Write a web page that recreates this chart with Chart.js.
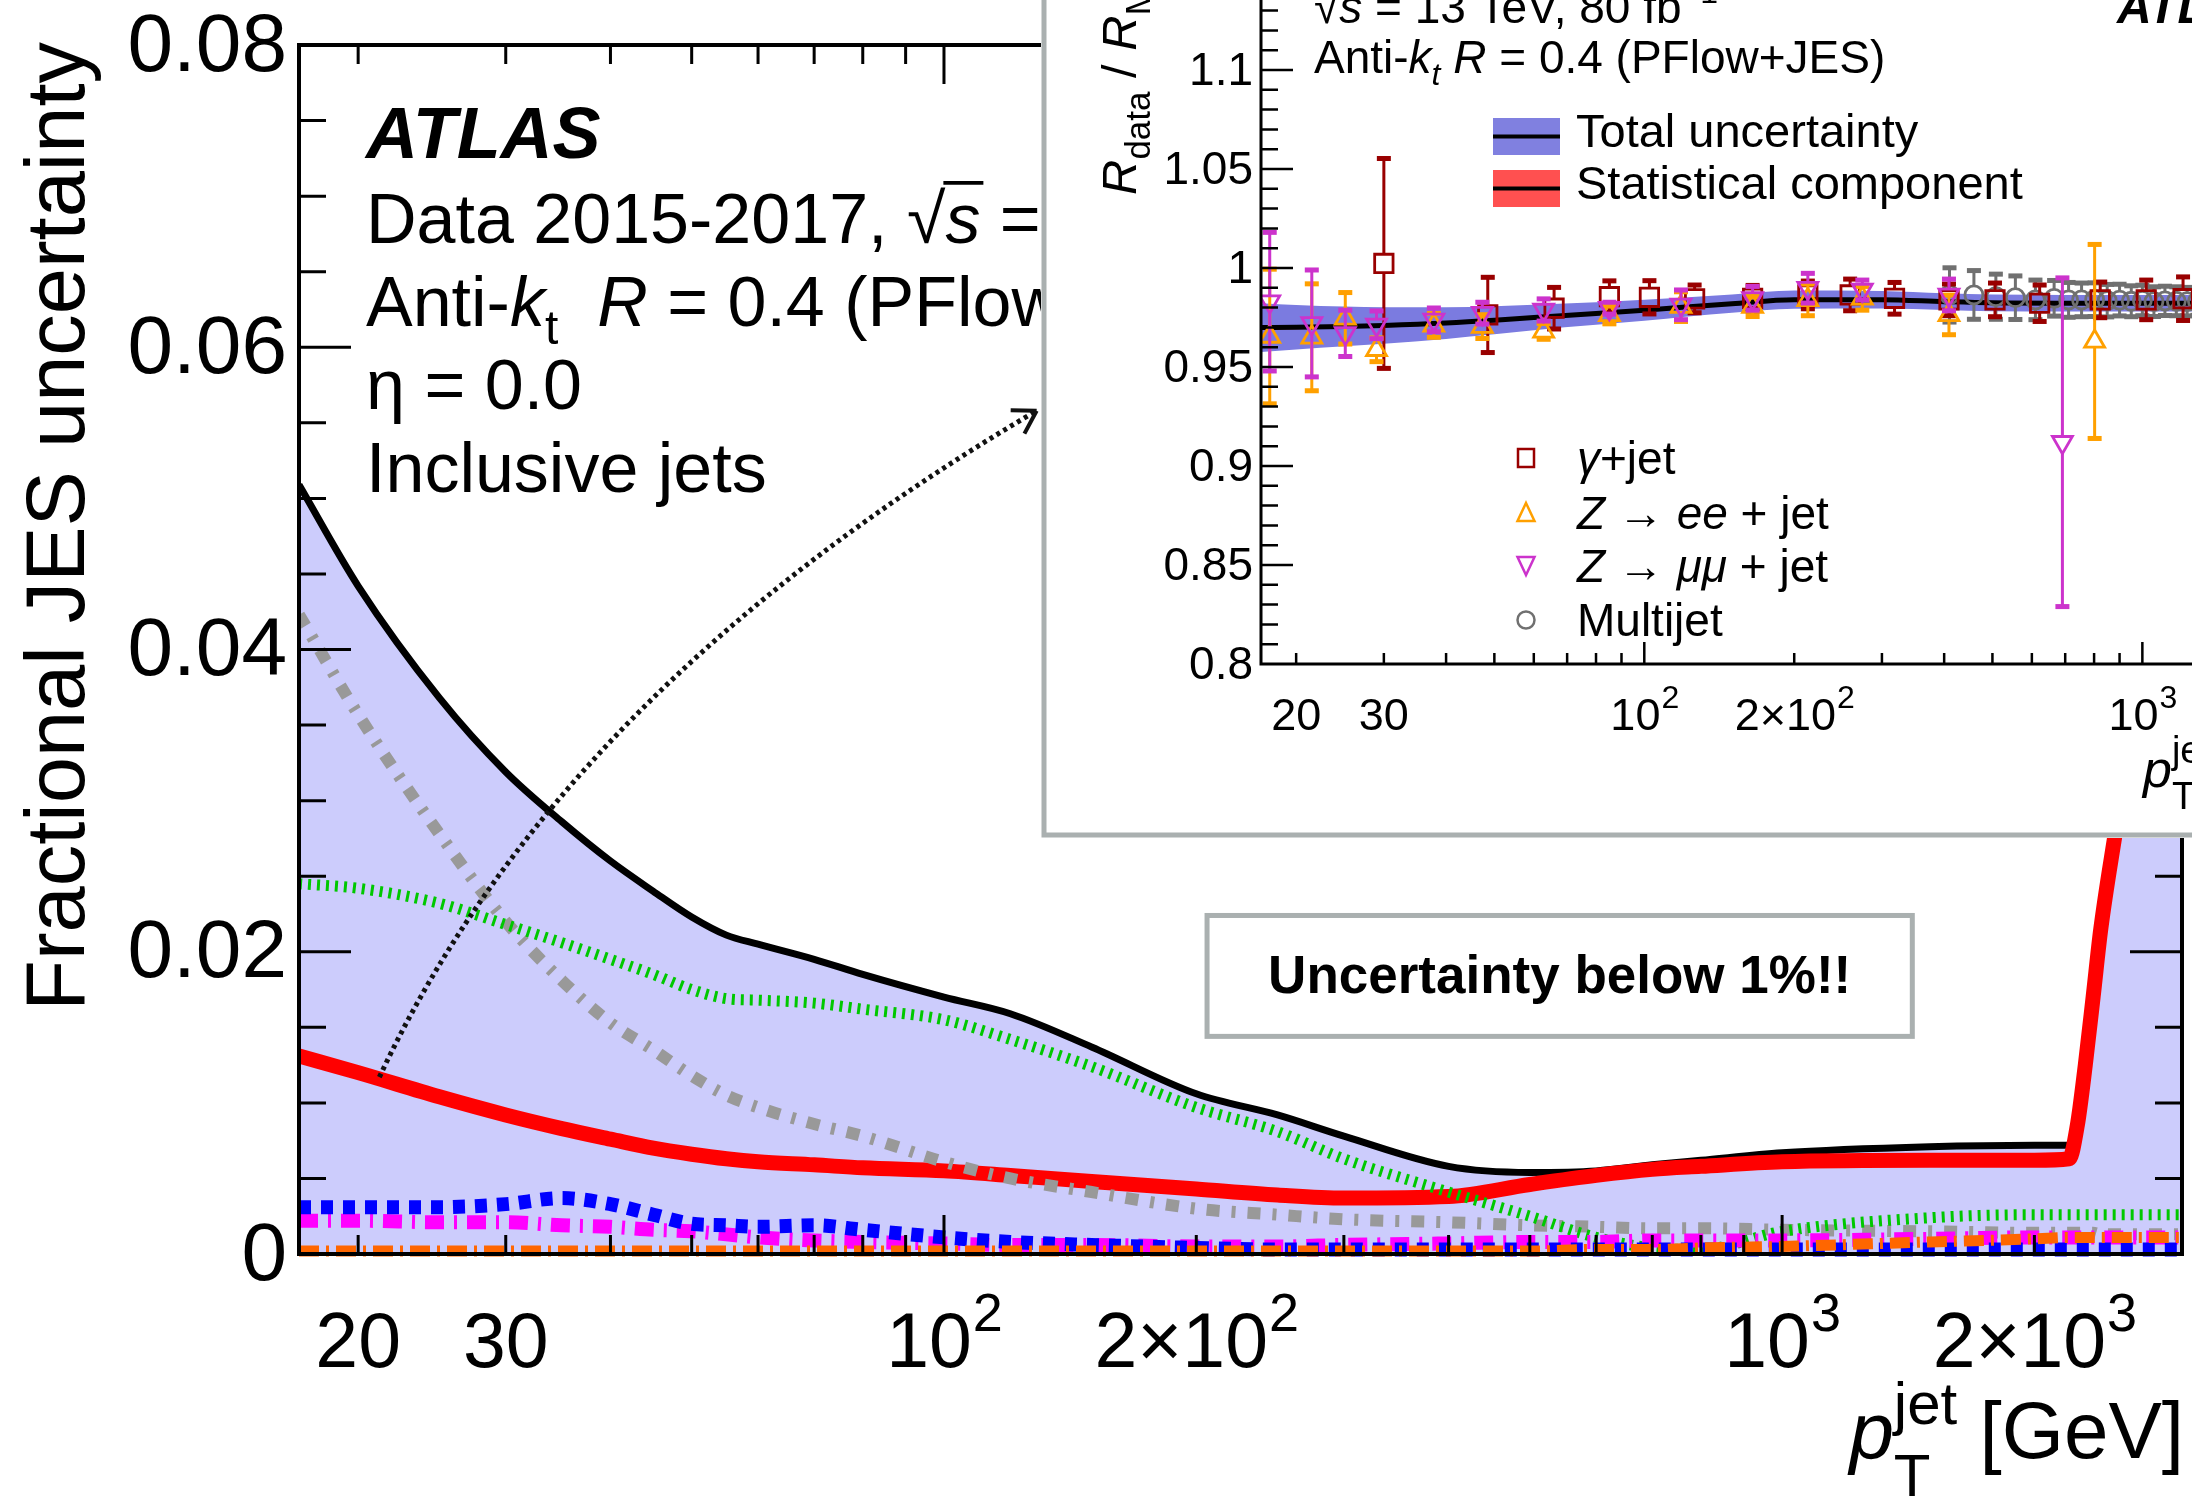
<!DOCTYPE html>
<html>
<head>
<meta charset="utf-8">
<script src="https://cdn.jsdelivr.net/npm/chart.js@4.4.1/dist/chart.umd.min.js"></script>
<style>
  html, body { margin: 0; padding: 0; background: #fff; }
  #main { position: absolute; left: 0; top: 0; }
  #insetBox { position: absolute; left: 1041px; top: 0; width: 1151px; height: 838px; overflow: hidden; background: #fff; }
  #inset { position: absolute; left: 0; top: -200px; }
</style>
</head>
<body>
<canvas id="main" width="2192" height="1503"></canvas>
<div id="insetBox"><canvas id="inset" width="1400" height="1040"></canvas></div>
<script>
// --- main plot: fractional JES uncertainty vs jet pT ---
const ptBins = [17, 20, 25, 30, 35, 40, 45, 50, 55, 60, 70, 80, 100, 120, 150, 200, 250, 300, 400, 500,
  600, 700, 800, 1000, 1500, 2000, 2200, 2250, 2300, 2350, 2400, 2500, 2600, 3000];
const totalUnc = [0.0509, 0.0442, 0.0368, 0.0319, 0.0286, 0.0260, 0.0240, 0.0223, 0.0211, 0.0205,
  0.0195, 0.0185, 0.0170, 0.0159, 0.0137, 0.0106, 0.0092, 0.0078, 0.0058, 0.0054,
  0.0055, 0.0059, 0.0062, 0.0067, 0.0071, 0.0072, 0.0072, 0.0091, 0.0131, 0.0176,
  0.0221, 0.0286, 0.0346, 0.0586];
const statUnc = [0.0131, 0.0120, 0.0104, 0.0092, 0.0083, 0.0076, 0.0070, 0.0066, 0.0063, 0.0061,
  0.0059, 0.0057, 0.0055, 0.0052, 0.0048, 0.0043, 0.0039, 0.0037, 0.0038, 0.0046,
  0.0052, 0.0056, 0.0058, 0.0061, 0.0062, 0.0062, 0.0063, 0.0085, 0.0125, 0.0170,
  0.0215, 0.0280, 0.0340, 0.0580];
const greenUnc = [0.0245, 0.0242, 0.0232, 0.0218, 0.0206, 0.0195, 0.0185, 0.0175, 0.0169, 0.0168,
  0.0166, 0.0162, 0.0155, 0.0142, 0.0124, 0.0097, 0.0081, 0.0063, 0.0041, 0.0025,
  0.0011, 0.0004, 0.0003, 0.0015, 0.0024, 0.0026, 0.0026, 0.0026, 0.0026, 0.0026,
  0.0026, 0.0026, 0.0026, 0.0026];
const grayUnc = [0.0423, 0.0357, 0.0278, 0.0220, 0.0181, 0.0153, 0.0135, 0.0118, 0.0105, 0.0097,
  0.0086, 0.0078, 0.0061, 0.0050, 0.0041, 0.0030, 0.0026, 0.0023, 0.0021, 0.0019,
  0.0018, 0.0017, 0.0017, 0.0016, 0.0015, 0.0014, 0.0014, 0.0014, 0.0014, 0.0014,
  0.0013, 0.0013, 0.0013, 0.0013];
const blueUnc = [0.0031, 0.0031, 0.0031, 0.0033, 0.0037, 0.0033, 0.0026, 0.0020, 0.0019, 0.0018,
  0.0019, 0.0016, 0.0011, 0.0008, 0.0006, 0.0004, 0.0003, 0.0003, 0.0003, 0.0003,
  0.0003, 0.0003, 0.0003, 0.0003, 0.0003, 0.0003, 0.0003, 0.0003, 0.0003, 0.0003,
  0.0003, 0.0003, 0.0003, 0.0003];
const magentaUnc = [0.0022, 0.0022, 0.0021, 0.0021, 0.0019, 0.0018, 0.0016, 0.0015, 0.0013, 0.0011,
  0.0009, 0.0008, 0.0007, 0.0006, 0.0006, 0.0005, 0.0005, 0.0006, 0.0007, 0.0008,
  0.0008, 0.0009, 0.0009, 0.0009, 0.0010, 0.0011, 0.0011, 0.0011, 0.0011, 0.0011,
  0.0011, 0.0011, 0.0011, 0.0011];
const orangeUnc = [0.0002, 0.0002, 0.0002, 0.0002, 0.0002, 0.0002, 0.0002, 0.0002, 0.0002, 0.0002,
  0.0002, 0.0002, 0.0002, 0.0002, 0.0002, 0.0002, 0.0002, 0.0002, 0.0002, 0.0002,
  0.0003, 0.0003, 0.0004, 0.0005, 0.0008, 0.0010, 0.0011, 0.0011, 0.0011, 0.0011,
  0.0011, 0.0011, 0.0011, 0.0011];

const xLabelVals = [20, 30, 100, 200, 1000, 2000];
const xLabelBase = ['20', '30', '10', '2\u00d710', '10', '2\u00d710'];
const xLabelExp = ['', '', '2', '2', '3', '3'];
const yLabelVals = [0, 0.02, 0.04, 0.06, 0.08];
const yLabelText = ['0', '0.02', '0.04', '0.06', '0.08'];

// annotation anchors (data coordinates)
const arrowFrom = [21.2, 0.0117], arrowCtrl = [34.8, 0.0373], arrowTo = [129, 0.0558];
const noteBox = { x0: 206, x1: 1430, y0: 0.0144, y1: 0.0224 };

// --- inset: Rdata / RMC ---
const calibPt = [17, 20, 25, 30, 40, 50, 60, 80, 100, 150, 200, 300, 400, 500, 700, 1000, 1500, 2000, 3000];
const calibRatio = [0.9699, 0.9701, 0.9705, 0.9710, 0.9722, 0.9736, 0.9750, 0.9770, 0.9787, 0.9820,
  0.9840, 0.9840, 0.9830, 0.9824, 0.9822, 0.9822, 0.9822, 0.9822, 0.9822];
const calibTotErr = [0.0123, 0.0112, 0.0100, 0.0092, 0.0080, 0.0071, 0.0064, 0.0057, 0.0053, 0.0046,
  0.0046, 0.0044, 0.0042, 0.0042, 0.0042, 0.0042, 0.0043, 0.0045, 0.0050];
const calibStatErr = [0.0011, 0.0010, 0.0009, 0.0009, 0.0008, 0.0008, 0.0008, 0.0008, 0.0008, 0.0008,
  0.0008, 0.0008, 0.0008, 0.0009, 0.0009, 0.0010, 0.0010, 0.0011, 0.0011];

const gjetPt = [30.0, 48.5, 65.9, 85.1, 102.4, 126.2, 165, 213, 259, 318, 409, 506, 622, 823, 1018, 1207];
const gjetR = [1.0023, 0.9763, 0.9797, 0.9855, 0.9852, 0.9844, 0.9847, 0.9864, 0.9864, 0.9847, 0.9839,
  0.9839, 0.9822, 0.9839, 0.9839, 0.9845];
const gjetErr = [0.053, 0.019, 0.0105, 0.008, 0.0084, 0.007, 0.0065, 0.007, 0.008, 0.008, 0.008,
  0.0085, 0.0092, 0.009, 0.010, 0.011];

const zeePt = [17.7, 21.5, 25.1, 29.0, 37.8, 47.3, 62.8, 85.1, 118.5, 165, 213, 274, 409, 802];
const zeeR = [0.9654, 0.9650, 0.9746, 0.9587, 0.9710, 0.9704, 0.9680, 0.9763, 0.9805, 0.9805, 0.9839,
  0.9847, 0.9763, 0.9629];
const zeeErr = [0.034, 0.027, 0.013, 0.006, 0.006, 0.006, 0.0040, 0.0045, 0.0075, 0.005, 0.008, 0.006, 0.010, 0.049];

const zmmPt = [17.7, 21.5, 25.1, 29.0, 37.8, 47.3, 62.8, 85.1, 118.5, 165, 213, 274, 409, 691];
const zmmR = [0.9830, 0.9720, 0.9670, 0.9713, 0.9738, 0.9772, 0.9788, 0.9797, 0.9814, 0.9847, 0.9898,
  0.9889, 0.9864, 0.9120];
const zmmErr = [0.035, 0.027, 0.0117, 0.007, 0.006, 0.0055, 0.0056, 0.003, 0.0075, 0.006, 0.0075, 0.005, 0.008, 0.083];

const mjPt = [410, 459, 508, 556, 610, 665, 711, 755, 802, 850, 900, 950, 1000, 1055, 1110, 1170, 1230, 1290];
const mjR = [0.9864, 0.9864, 0.9855, 0.9850, 0.9839, 0.9847, 0.9839, 0.9839, 0.9840, 0.9835, 0.9838,
  0.9832, 0.9836, 0.9830, 0.9834, 0.9832, 0.9830, 0.9831];
const mjErr = [0.0137, 0.0123, 0.0114, 0.0110, 0.0100, 0.0090, 0.0088, 0.0085, 0.0085, 0.0082, 0.0080,
  0.0078, 0.0077, 0.0075, 0.0074, 0.0073, 0.0072, 0.0070];

const insetXLabelVals = [20, 30, 100, 200, 1000, 2000];
const insetYLabelVals = [0.8, 0.85, 0.9, 0.95, 1, 1.05, 1.1, 1.15];
const insetYLabelText = ['0.8', '0.85', '0.9', '0.95', '1', '1.05', '1.1', '1.15'];

const FONT = '"Liberation Sans", Arial, Helvetica, sans-serif';
const C_GJET = '#990000', C_ZEE = '#ffa000', C_ZMM = '#cc33cc', C_MJ = '#707070';

function fnt(size, style) { return (style || '') + ' ' + size + 'px ' + FONT; }

// draws a run of text pieces (italic, sub/superscripts); hold = next piece starts at same x
function drawRich(ctx, x, y, parts, align) {
  const ws = parts.map(p => { ctx.font = fnt(p.size, p.style); return ctx.measureText(p.t).width; });
  let total = 0, held = 0;
  parts.forEach((p, i) => {
    if (p.hold) held = Math.max(held, ws[i]);
    else { total += Math.max(ws[i], held); held = 0; }
  });
  total += held;
  let cx = align === 'center' ? x - total / 2 : align === 'right' ? x - total : x;
  held = 0;
  ctx.textAlign = 'left';
  ctx.textBaseline = 'alphabetic';
  parts.forEach((p, i) => {
    ctx.font = fnt(p.size, p.style);
    ctx.fillText(p.t, cx, y + (p.dy || 0));
    if (p.over) {
      ctx.save();
      ctx.lineWidth = p.size * 0.055;
      ctx.beginPath();
      ctx.moveTo(cx - 2, y - p.size * 0.86);
      ctx.lineTo(cx + ws[i] + 3, y - p.size * 0.86);
      ctx.stroke();
      ctx.restore();
    }
    if (p.hold) held = Math.max(held, ws[i]);
    else { cx += Math.max(ws[i], held); held = 0; }
  });
}

function minorLogTicks(min, max) {
  const out = [];
  for (let d = 1; d <= 1000; d *= 10) {
    for (let m = 1; m <= 9; m++) {
      const v = m * d;
      if (v > min && v < max) out.push({ v: v, major: m === 1 });
    }
  }
  return out;
}

function pts(xs, ys) { return xs.map((x, i) => ({ x: x, y: ys[i] })); }

// ---------------- main chart ----------------
const mainDecor = {
  id: 'mainDecor',
  afterDatasetsDraw(chart) {
    const ctx = chart.ctx, a = chart.chartArea;
    const xs = chart.scales.x, ys = chart.scales.y;
    ctx.save();
    ctx.strokeStyle = '#000';
    ctx.fillStyle = '#000';

    // ticks
    ctx.lineWidth = 3;
    ctx.beginPath();
    minorLogTicks(17, 3000).forEach(t => {
      const px = xs.getPixelForValue(t.v), len = t.major ? 39 : 19;
      ctx.moveTo(px, a.bottom); ctx.lineTo(px, a.bottom - len);
      ctx.moveTo(px, a.top); ctx.lineTo(px, a.top + len);
    });
    for (let k = 1; k < 16; k++) {
      const v = k * 0.005, py = ys.getPixelForValue(v), len = k % 4 === 0 ? 52 : 27;
      ctx.moveTo(a.left, py); ctx.lineTo(a.left + len, py);
      ctx.moveTo(a.right, py); ctx.lineTo(a.right - len, py);
    }
    ctx.stroke();

    // frame
    ctx.lineWidth = 4;
    ctx.strokeRect(a.left, a.top, a.right - a.left, a.bottom - a.top);

    // y tick labels
    ctx.font = fnt(82);
    ctx.textAlign = 'right';
    ctx.textBaseline = 'middle';
    yLabelVals.forEach((v, i) => ctx.fillText(yLabelText[i], a.left - 12, ys.getPixelForValue(v) + 3));

    // x tick labels with exponents
    xLabelVals.forEach((v, i) => {
      const px = xs.getPixelForValue(v);
      ctx.font = fnt(77); const wb = ctx.measureText(xLabelBase[i]).width;
      ctx.font = fnt(54); const we = xLabelExp[i] ? ctx.measureText(xLabelExp[i]).width : 0;
      const sx = px - (wb + we) / 2;
      ctx.textAlign = 'left'; ctx.textBaseline = 'alphabetic';
      ctx.font = fnt(77); ctx.fillText(xLabelBase[i], sx, 1367);
      if (xLabelExp[i]) { ctx.font = fnt(54); ctx.fillText(xLabelExp[i], sx + wb + 1, 1331); }
    });

    // axis titles
    ctx.save();
    ctx.translate(84, 42);
    ctx.rotate(-Math.PI / 2);
    ctx.font = fnt(83);
    ctx.textAlign = 'right';
    ctx.textBaseline = 'alphabetic';
    ctx.fillText('Fractional JES uncertainty', 0, 0);
    ctx.restore();
    drawRich(ctx, a.right + 2, 1458, [
      { t: 'p', size: 80, style: 'italic' },
      { t: 'jet', size: 60, dy: -34, hold: true },
      { t: 'T', size: 60, dy: 38 },
      { t: ' [GeV]', size: 80 }
    ], 'right');

    // labels
    drawRich(ctx, 366, 158, [{ t: 'ATLAS', size: 72, style: 'italic bold' }]);
    drawRich(ctx, 366, 243, [
      { t: 'Data 2015-2017, ', size: 70 },
      { t: '\u221a', size: 70 },
      { t: 's', size: 70, style: 'italic', over: true },
      { t: ' = 13 TeV, 80 fb', size: 70 },
      { t: '\u22121', size: 48, dy: -30 }
    ]);
    drawRich(ctx, 366, 326, [
      { t: 'Anti-', size: 70 },
      { t: 'k', size: 70, style: 'italic' },
      { t: 't', size: 48, dy: 18 },
      { t: '  ', size: 70 },
      { t: 'R', size: 70, style: 'italic' },
      { t: ' = 0.4 (PFlow+JES)', size: 70 }
    ]);
    drawRich(ctx, 366, 409, [{ t: '\u03b7 = 0.0', size: 70 }]);
    drawRich(ctx, 366, 492, [{ t: 'Inclusive jets', size: 70 }]);

    // note box
    const bx0 = xs.getPixelForValue(noteBox.x0), bx1 = xs.getPixelForValue(noteBox.x1);
    const by0 = ys.getPixelForValue(noteBox.y1), by1 = ys.getPixelForValue(noteBox.y0);
    ctx.fillStyle = '#fff';
    ctx.fillRect(bx0, by0, bx1 - bx0, by1 - by0);
    ctx.strokeStyle = '#aab0b0';
    ctx.lineWidth = 5;
    ctx.strokeRect(bx0, by0, bx1 - bx0, by1 - by0);
    ctx.fillStyle = '#000';
    ctx.font = fnt(53, 'bold');
    ctx.textAlign = 'center';
    ctx.textBaseline = 'middle';
    ctx.fillText('Uncertainty below 1%!!', (bx0 + bx1) / 2, (by0 + by1) / 2 + 2);

    // dotted arrow
    const p0 = [xs.getPixelForValue(arrowFrom[0]), ys.getPixelForValue(arrowFrom[1])];
    const pc = [xs.getPixelForValue(arrowCtrl[0]), ys.getPixelForValue(arrowCtrl[1])];
    const p2 = [xs.getPixelForValue(arrowTo[0]), ys.getPixelForValue(arrowTo[1])];
    ctx.strokeStyle = '#111';
    ctx.lineWidth = 5;
    ctx.setLineDash([4, 4]);
    ctx.beginPath();
    ctx.moveTo(p0[0], p0[1]);
    ctx.quadraticCurveTo(pc[0], pc[1], p2[0], p2[1]);
    ctx.stroke();
    const ang = Math.atan2(p2[1] - pc[1], p2[0] - pc[0]);
    ctx.setLineDash([]);
    ctx.lineWidth = 4;
    ctx.beginPath();
    [0.55, -0.55].forEach(d => {
      ctx.moveTo(p2[0], p2[1]);
      ctx.lineTo(p2[0] - 26 * Math.cos(ang + d), p2[1] - 26 * Math.sin(ang + d));
    });
    ctx.stroke();
    ctx.restore();
  }
};

function curve(vals, color, width, dash, order, extra) {
  return Object.assign({
    data: pts(ptBins, vals),
    borderColor: color,
    borderWidth: width,
    borderDash: dash,
    pointRadius: 0,
    fill: false,
    order: order,
    clip: { left: 0, top: 0, right: 0, bottom: 12 }
  }, extra || {});
}

new Chart(document.getElementById('main'), {
  type: 'line',
  data: {
    datasets: [
      curve(totalUnc, '#000', 7, [], 7, { fill: 'origin', backgroundColor: 'rgb(204,204,252)' }),
      curve(statUnc, '#ff0000', 15, [], 6),
      curve(grayUnc, '#999999', 12, [13, 12, 4, 12], 5),
      curve(greenUnc, '#00c800', 11, [3, 6], 4),
      curve(magentaUnc, '#ff00ff', 14, [19, 10, 3, 10], 3),
      curve(blueUnc, '#0000ff', 14, [12, 10], 2),
      curve(orangeUnc, '#ff6600', 11, [20, 7, 3, 7], 1)
    ]
  },
  options: {
    responsive: false,
    animation: false,
    devicePixelRatio: 1,
    layout: { padding: { left: 299, top: 45, right: 10, bottom: 249 } },
    plugins: { legend: { display: false }, tooltip: { enabled: false } },
    elements: { line: { cubicInterpolationMode: 'monotone', borderJoinStyle: 'round' } },
    scales: {
      x: { type: 'logarithmic', min: 17, max: 3000, display: false },
      y: { type: 'linear', min: 0, max: 0.08, display: false }
    }
  },
  plugins: [mainDecor]
});

// ---------------- inset chart ----------------
const errorBars = {
  id: 'errorBars',
  beforeDatasetDraw(chart, args) {
    const ds = chart.data.datasets[args.index];
    if (!ds.errors) return;
    const ctx = chart.ctx, ys = chart.scales.y;
    ctx.save();
    ctx.strokeStyle = ds.pointBorderColor;
    ctx.fillStyle = ds.pointBorderColor;
    ctx.lineWidth = 3;
    args.meta.data.forEach((pt, i) => {
      const v = ds.data[i].y, e = ds.errors[i];
      const yt = ys.getPixelForValue(v + e), yb = ys.getPixelForValue(v - e);
      ctx.beginPath();
      if (pt.y - ds.gapUp > yt) { ctx.moveTo(pt.x, yt); ctx.lineTo(pt.x, pt.y - ds.gapUp); }
      if (pt.y + ds.gapDn < yb) { ctx.moveTo(pt.x, pt.y + ds.gapDn); ctx.lineTo(pt.x, yb); }
      ctx.stroke();
      ctx.fillRect(pt.x - 7, yt - 2.5, 14, 5);
      ctx.fillRect(pt.x - 7, yb - 2.5, 14, 5);
    });
    ctx.restore();
  }
};

function legendMarker(ctx, kind, x, y, color) {
  ctx.strokeStyle = color;
  ctx.lineWidth = 2.5;
  ctx.beginPath();
  if (kind === 'rect') ctx.rect(x - 8, y - 9, 16, 18);
  if (kind === 'up') { ctx.moveTo(x, y - 10); ctx.lineTo(x + 8.5, y + 8); ctx.lineTo(x - 8.5, y + 8); ctx.closePath(); }
  if (kind === 'down') { ctx.moveTo(x - 8.5, y - 9); ctx.lineTo(x + 8.5, y - 9); ctx.lineTo(x, y + 9); ctx.closePath(); }
  if (kind === 'circle') ctx.arc(x, y, 8.5, 0, Math.PI * 2);
  ctx.stroke();
}

const insetDecor = {
  id: 'insetDecor',
  afterDatasetsDraw(chart) {
    const ctx = chart.ctx, a = chart.chartArea;
    const xs = chart.scales.x, ys = chart.scales.y;
    ctx.save();
    ctx.strokeStyle = '#000';
    ctx.fillStyle = '#000';

    // ticks
    ctx.lineWidth = 2.5;
    ctx.beginPath();
    minorLogTicks(17, 3000).forEach(t => {
      const px = xs.getPixelForValue(t.v), len = t.major ? 22 : 11;
      ctx.moveTo(px, a.bottom); ctx.lineTo(px, a.bottom - len);
      ctx.moveTo(px, a.top); ctx.lineTo(px, a.top + len);
    });
    for (let k = 1; k < 40; k++) {
      const py = ys.getPixelForValue(0.8 + k * 0.01), len = k % 5 === 0 ? 32 : 17;
      ctx.moveTo(a.left, py); ctx.lineTo(a.left + len, py);
      ctx.moveTo(a.right, py); ctx.lineTo(a.right - len, py);
    }
    ctx.stroke();
    ctx.lineWidth = 3;
    ctx.strokeRect(a.left, a.top, a.right - a.left, a.bottom - a.top);

    // tick labels
    ctx.font = fnt(46);
    ctx.textAlign = 'right';
    ctx.textBaseline = 'middle';
    insetYLabelVals.forEach((v, i) => ctx.fillText(insetYLabelText[i], a.left - 8, ys.getPixelForValue(v) + 2));
    insetXLabelVals.forEach((v, i) => {
      const px = xs.getPixelForValue(v);
      ctx.font = fnt(45); const wb = ctx.measureText(xLabelBase[i]).width;
      ctx.font = fnt(32); const we = xLabelExp[i] ? ctx.measureText(xLabelExp[i]).width : 0;
      const sx = px - (wb + we) / 2;
      ctx.textAlign = 'left'; ctx.textBaseline = 'alphabetic';
      ctx.font = fnt(45); ctx.fillText(xLabelBase[i], sx, 930);
      if (xLabelExp[i]) { ctx.font = fnt(32); ctx.fillText(xLabelExp[i], sx + wb + 1, 908); }
    });

    // axis titles
    drawRich(ctx, 1102, 987, [
      { t: 'p', size: 52, style: 'italic' },
      { t: 'jet', size: 38, dy: -24, hold: true },
      { t: 'T', size: 38, dy: 22 },
      { t: ' [GeV]', size: 52 }
    ]);
    ctx.save();
    ctx.translate(95, 395);
    ctx.rotate(-Math.PI / 2);
    drawRich(ctx, 0, 0, [
      { t: 'R', size: 49, style: 'italic' },
      { t: 'data', size: 35, dy: 14 },
      { t: ' / ', size: 49 },
      { t: 'R', size: 49, style: 'italic' },
      { t: 'MC', size: 35, dy: 14 }
    ]);
    ctx.restore();

    // labels
    drawRich(ctx, 273, 223, [
      { t: '\u221a', size: 46 },
      { t: 's', size: 46, style: 'italic', over: true },
      { t: ' = 13 TeV, 80 fb', size: 46 },
      { t: '\u22121', size: 32, dy: -20 }
    ]);
    drawRich(ctx, 273, 273, [
      { t: 'Anti-', size: 46 },
      { t: 'k', size: 46, style: 'italic' },
      { t: 't', size: 32, style: 'italic', dy: 12 },
      { t: ' ', size: 46 },
      { t: 'R', size: 46, style: 'italic' },
      { t: ' = 0.4 (PFlow+JES)', size: 46 }
    ]);
    drawRich(ctx, 1076, 223, [{ t: 'ATLAS', size: 48, style: 'italic bold' }]);

    // legend: bands
    [['#8080e0', 'Total uncertainty', 318], ['#ff5050', 'Statistical component', 370]].forEach(r => {
      ctx.fillStyle = r[0];
      ctx.fillRect(452, r[2], 67, 37);
      ctx.strokeStyle = '#000';
      ctx.lineWidth = 4;
      ctx.beginPath(); ctx.moveTo(452, r[2] + 18.5); ctx.lineTo(519, r[2] + 18.5); ctx.stroke();
      ctx.fillStyle = '#000';
      drawRich(ctx, 535, r[2] + 29, [{ t: r[1], size: 47 }]);
    });
    // legend: markers
    const rows = [
      ['rect', C_GJET, 658, [{ t: '\u03b3', size: 46, style: 'italic' }, { t: '+jet', size: 46 }]],
      ['up', C_ZEE, 713, [{ t: 'Z', size: 46, style: 'italic' }, { t: ' \u2192 ', size: 46 }, { t: 'ee', size: 46, style: 'italic' }, { t: ' + jet', size: 46 }]],
      ['down', C_ZMM, 766, [{ t: 'Z', size: 46, style: 'italic' }, { t: ' \u2192 ', size: 46 }, { t: '\u03bc\u03bc', size: 46, style: 'italic' }, { t: ' + jet', size: 46 }]],
      ['circle', C_MJ, 820, [{ t: 'Multijet', size: 46 }]]
    ];
    rows.forEach(r => {
      legendMarker(ctx, r[0], 485, r[2], r[1]);
      ctx.fillStyle = '#000';
      drawRich(ctx, 536, r[2] + 16, r[3]);
    });

    // inset frame border
    ctx.strokeStyle = '#aab0b0';
    ctx.lineWidth = 5;
    ctx.beginPath();
    ctx.moveTo(3, 0); ctx.lineTo(3, 1035); ctx.lineTo(1400, 1035);
    ctx.stroke();
    ctx.restore();
  }
};

function markerSet(xs, ys, errs, color, style, radius, rot, gapUp, gapDn, order) {
  return {
    data: pts(xs, ys),
    errors: errs,
    gapUp: gapUp, gapDn: gapDn,
    showLine: false,
    pointStyle: style,
    pointRotation: rot,
    pointRadius: radius,
    pointBorderWidth: 2.8,
    pointBorderColor: color,
    borderColor: color,
    pointBackgroundColor: 'rgba(0,0,0,0)',
    order: order
  };
}

new Chart(document.getElementById('inset'), {
  type: 'line',
  data: {
    datasets: [
      { data: pts(calibPt, calibRatio.map((v, i) => v + calibTotErr[i])), fill: '+1', backgroundColor: '#7b7be0', borderWidth: 0, pointRadius: 0, order: 20 },
      { data: pts(calibPt, calibRatio.map((v, i) => v - calibTotErr[i])), fill: false, borderWidth: 0, pointRadius: 0, order: 19 },
      { data: pts(calibPt, calibRatio.map((v, i) => v + calibStatErr[i])), fill: '+1', backgroundColor: '#ff5050', borderWidth: 0, pointRadius: 0, order: 18 },
      { data: pts(calibPt, calibRatio.map((v, i) => v - calibStatErr[i])), fill: false, borderWidth: 0, pointRadius: 0, order: 17 },
      { data: pts(calibPt, calibRatio), borderColor: '#000', borderWidth: 5, fill: false, pointRadius: 0, order: 16 },
      markerSet(mjPt, mjR, mjErr, C_MJ, 'circle', 9, 0, 9, 9, 5),
      markerSet(gjetPt, gjetR, gjetErr, C_GJET, 'rect', 13, 0, 9, 9, 4),
      markerSet(zeePt, zeeR, zeeErr, C_ZEE, 'triangle', 11.5, 0, 11, 6, 3),
      markerSet(zmmPt, zmmR, zmmErr, C_ZMM, 'triangle', 11.5, 180, 6, 11, 2)
    ]
  },
  options: {
    responsive: false,
    animation: false,
    devicePixelRatio: 1,
    layout: { padding: { left: 220, top: 72, right: 61, bottom: 176 } },
    plugins: { legend: { display: false }, tooltip: { enabled: false } },
    elements: { line: { cubicInterpolationMode: 'monotone' } },
    scales: {
      x: { type: 'logarithmic', min: 17, max: 3000, display: false },
      y: { type: 'linear', min: 0.8, max: 1.2, display: false }
    }
  },
  plugins: [errorBars, insetDecor]
});
</script>
</body>
</html>
